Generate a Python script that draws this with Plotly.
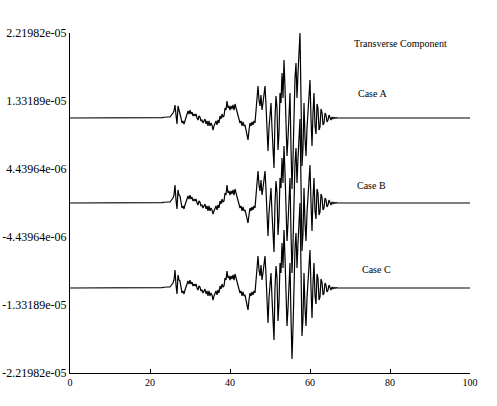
import plotly.graph_objects as go

# time samples (s)
times = [0, 17.5, 18, 18.5, 19, 19.5, 20, 20.5, 21, 21.5, 22, 22.5, 23, 23.5, 24, 24.5,
         25, 25.25, 25.5, 25.75, 26, 26.25, 26.5, 26.75, 27, 27.25, 27.5, 27.75,
         28, 28.25, 28.5, 28.75, 29, 29.25, 29.5, 29.75, 30, 30.25, 30.5, 30.75,
         31, 31.25, 31.5, 31.75, 32, 32.25, 32.5, 32.75, 33, 33.25, 33.5, 33.75,
         34, 34.25, 34.5, 34.75, 35, 35.25, 35.5, 35.75, 36, 36.25, 36.5, 36.75,
         37, 37.25, 37.5, 37.75, 38, 38.25, 38.5, 38.75, 39, 39.25, 39.5, 39.75,
         40, 40.25, 40.5, 40.75, 41, 41.25, 41.5, 41.75, 42, 42.25, 42.5, 42.75,
         43, 43.25, 43.5, 43.75, 44, 44.25, 44.5, 44.75, 45, 45.25, 45.5, 45.75,
         46, 46.25, 46.5, 46.75, 47, 47.25, 47.5, 47.75, 48, 48.25, 48.5, 48.75,
         49, 49.25, 49.5, 49.75, 50, 50.25, 50.5, 50.75, 51, 51.25, 51.5, 51.75,
         52, 52.25, 52.5, 52.75, 53, 53.25, 53.5, 53.75, 54, 54.25, 54.5, 54.75,
         55, 55.25, 55.5, 55.75, 56, 56.25, 56.5, 56.75, 57, 57.25, 57.5, 57.75,
         58, 58.25, 58.5, 58.75, 59, 59.25, 59.5, 59.75, 60, 60.25, 60.5, 60.75,
         61, 61.25, 61.5, 61.75, 62, 62.25, 62.5, 62.75, 63, 63.25, 63.5, 63.75,
         64, 64.25, 64.5, 64.75, 65, 65.25, 65.5, 65.75, 66, 66.25, 66.5, 67, 100]

# displacement, units of 1e-6
case_a = [0, 0, 0, 0.03, 0, 0.04, 0.04, 0.08, 0.04, 0.08, 0.04, 0.09, 0.05, 0.10, 0.07, 0.13,
          0.13, 0.26, 0.52, 0.65, 0.91, 1.70, 0.39, -0.78, 1.57, 1.04, 0.91, 0,
          -0.65, -0.39, -0.78, -0.26, 0.26, 0.52, 0.91, 0.52, 1.04, 0.52, 0.78, 0.26,
          0.52, 0.26, 0.52, 0, -0.26, 0.26, 0.13, -0.39, -0.26, -0.65, -0.26, -0.13,
          -0.78, -0.39, -1.04, -0.39, -1.04, -0.65, -0.91, -1.57, -1.04, -0.78, -0.39, -0.91,
          -0.26, -0.65, 0.26, -0.13, 0.52, 0.13, 0.26, 1.31, 1.04, 2.22, 1.31, 1.57,
          1.04, 1.57, 1.18, 1.70, 1.04, 1.83, 1.31, 0.78, 0.26, -0.39, -0.65, -0.39,
          -1.04, -0.52, -1.04, -0.91, -1.70, -2.35, -2.87, -1.57, -0.65, -1.04, -0.52, -0.91,
          -0.39, -0.65, 0.65, 2.61, 4.18, 2.35, 1.57, 3.00, 1.04, 1.96, 3.66, 4.18,
          1.70, -0.65, -4.31, -1.31, 0.65, 1.96, -1.31, -4.57, -6.53, 0, 2.87, 1.31,
          -4.18, -1.96, 3.27, 1.96, 5.88, 2.61, 7.57, 3.92, -1.96, -4.96, -2.61, 1.31,
          3.27, -3.92, -9.27, -5.22, 1.31, 5.22, 7.18, 2.61, 5.88, 9.14, 11.10, 2.61,
          -6.27, -3.92, 1.96, -2.61, -4.96, -1.31, 1.31, 3.92, 4.96, 0, -3.66, 0.65,
          3.27, -1.04, -2.09, 1.83, 1.31, -1.57, -1.18, 1.18, 0.78, -0.91, -0.65, 0.65,
          0.39, -0.52, -0.26, 0.39, 0.13, -0.26, 0.13, -0.13, 0.07, -0.04, 0.04, 0, 0]

case_b = [0, 0, 0, 0.03, 0, 0.04, 0.04, 0.08, 0.04, 0.08, 0.04, 0.09, 0.05, 0.10, 0.07, 0.13,
          0.13, 0.26, 0.52, 0.65, 1.04, 2.35, 0.39, -0.78, 1.70, 1.04, 0.91, 0,
          -0.65, -0.39, -0.78, -0.26, 0.26, 0.52, 0.91, 0.52, 1.04, 0.52, 0.78, 0.26,
          0.52, 0.26, 0.52, 0, -0.26, 0.26, 0.13, -0.39, -0.26, -0.65, -0.26, -0.13,
          -0.78, -0.39, -1.04, -0.39, -1.04, -0.65, -0.91, -1.44, -1.04, -0.78, -0.39, -0.91,
          -0.26, -0.65, 0.26, -0.13, 0.52, 0.13, 0.26, 1.31, 1.04, 2.35, 1.31, 1.57,
          1.04, 1.57, 1.18, 1.70, 1.04, 1.83, 1.31, 0.78, 0.26, -0.39, -0.65, -0.39,
          -1.04, -0.52, -1.04, -0.91, -1.57, -2.22, -2.61, -1.57, -0.65, -1.04, -0.52, -0.91,
          -0.39, -0.65, 0.65, 2.61, 4.18, 2.35, 1.57, 3.00, 1.04, 1.96, 3.66, 4.18,
          1.70, -0.65, -4.31, -1.31, 0.65, 1.96, -1.31, -4.44, -6.40, 0, 2.87, 1.31,
          -4.18, -1.96, 3.27, 1.96, 5.88, 2.61, 7.44, 3.92, -1.96, -4.96, -2.61, 1.31,
          3.27, -3.92, -9.14, -5.22, 1.31, 5.22, 7.18, 2.61, 5.88, 9.01, 10.97, 2.61,
          -6.27, -3.92, 1.96, -2.61, -4.96, -1.31, 1.31, 3.92, 4.96, 0, -3.66, 0.65,
          3.27, -1.04, -2.09, 1.83, 1.31, -1.57, -1.18, 1.18, 0.78, -0.91, -0.65, 0.65,
          0.39, -0.52, -0.26, 0.39, 0.13, -0.26, 0.13, -0.13, 0.07, -0.04, 0.04, 0, 0]

case_c = [0, 0, 0, 0.03, 0, 0.04, 0.04, 0.08, 0.04, 0.08, 0.04, 0.09, 0.05, 0.10, 0.07, 0.13,
          0.13, 0.26, 0.52, 0.65, 1.04, 2.35, 0.39, -0.78, 1.70, 1.04, 0.91, 0,
          -0.65, -0.39, -0.78, -0.26, 0.26, 0.52, 0.91, 0.52, 1.04, 0.52, 0.78, 0.26,
          0.52, 0.26, 0.52, 0, -0.26, 0.26, 0.13, -0.39, -0.26, -0.65, -0.26, -0.13,
          -0.78, -0.39, -1.04, -0.39, -1.04, -0.65, -0.91, -1.57, -1.04, -0.78, -0.39, -0.91,
          -0.26, -0.65, 0.26, -0.13, 0.52, 0.13, 0.26, 1.31, 1.04, 2.22, 1.31, 1.57,
          1.04, 1.57, 1.18, 1.70, 1.04, 1.83, 1.31, 0.78, 0.26, -0.39, -0.65, -0.39,
          -1.04, -0.52, -1.04, -0.91, -1.70, -2.35, -2.87, -1.57, -0.65, -1.04, -0.52, -0.91,
          -0.39, -0.65, 0.65, 2.61, 4.18, 2.35, 1.57, 3.00, 1.04, 1.96, 3.66, 4.18,
          1.70, -0.65, -4.57, -1.31, 0.65, 1.96, -1.31, -4.70, -6.79, 0, 2.87, 1.31,
          -4.31, -1.96, 3.27, 1.96, 5.88, 2.61, 7.57, 3.92, -1.96, -4.96, -2.61, 1.31,
          3.27, -3.92, -9.27, -5.22, 1.31, 5.22, 7.18, 2.61, 5.88, 9.14, 11.10, 2.61,
          -6.27, -3.92, 1.96, -2.61, -4.96, -1.31, 1.31, 3.92, 4.96, 0, -3.92, 0.65,
          3.27, -1.04, -2.09, 1.83, 1.31, -1.57, -1.18, 1.18, 0.78, -0.91, -0.65, 0.65,
          0.39, -0.52, -0.26, 0.39, 0.13, -0.26, 0.13, -0.13, 0.07, -0.04, 0.04, 0, 0]

assert len(times) == len(case_a) == len(case_b) == len(case_c), (len(times), len(case_a), len(case_b), len(case_c))

case_names = ["Case A", "Case B", "Case C"]
case_offsets = [1.10991e-05, 0.0, -1.10991e-05]
label_x = [75.5, 75.3, 76.5]
label_y = [1.436e-05, 2.35e-06, -8.62e-06]

y_tickvals = [2.21982e-05, 1.33189e-05, 4.43964e-06, -4.43964e-06, -1.33189e-05, -2.21982e-05]
y_ticktext = ["2.21982e-05", "1.33189e-05", "4.43964e-06", "-4.43964e-06", "-1.33189e-05", "-2.21982e-05"]
x_tickvals = [0, 20, 40, 60, 80, 100]

title_text = "Transverse Component"

fig = go.Figure()
for vals, off in zip([case_a, case_b, case_c], case_offsets):
    fig.add_trace(go.Scatter(
        x=times, y=[v * 1e-6 + off for v in vals], mode="lines",
        line=dict(color="black", width=1.2), showlegend=False, hoverinfo="skip"))

serif = "Liberation Serif, Times New Roman, serif"
font = dict(family=serif, size=10, color="black")

annotations = [dict(x=82.5, y=2.0893e-05, text=title_text, showarrow=False,
                    xref="x", yref="y", font=font)]
for name, lx, ly in zip(case_names, label_x, label_y):
    annotations.append(dict(x=lx, y=ly, text=name, showarrow=False, xref="x", yref="y", font=font))

fig.update_layout(
    width=497, height=406,
    margin=dict(l=70, r=27, t=33, b=33, autoexpand=False),
    paper_bgcolor="white", plot_bgcolor="white",
    font=font,
    annotations=annotations,
    xaxis=dict(range=[0, 100], tickvals=x_tickvals, ticktext=[str(v) for v in x_tickvals],
               showgrid=False, zeroline=False, showline=True, linecolor="black", linewidth=1,
               ticks="inside", ticklen=4, tickcolor="black", automargin=False,
               tickfont=dict(family=serif, size=10, color="black")),
    yaxis=dict(range=[-2.21982e-05, 2.21982e-05], tickvals=y_tickvals, ticktext=y_ticktext,
               showgrid=False, zeroline=False, showline=True, linecolor="black", linewidth=1,
               ticks="", ticklen=0, automargin=False,
               tickfont=dict(family=serif, size=12, color="black")),
)

fig.write_html("out.html", config={"displayModeBar": False},
               post_script="document.body.style.margin='0px';")
